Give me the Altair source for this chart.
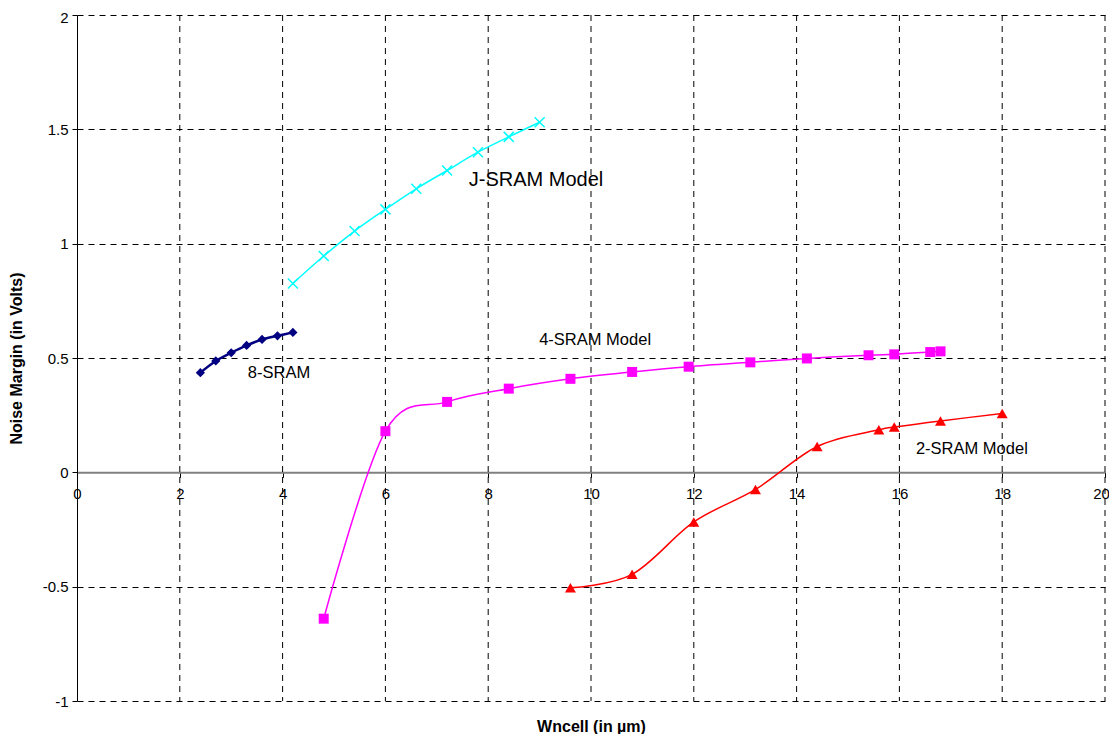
import altair as alt
import pandas as pd

# ---- data ----
sram8_x = [2.4, 2.7, 3.0, 3.3, 3.6, 3.9, 4.2]
sram8_y = [0.436, 0.487, 0.523, 0.555, 0.581, 0.597, 0.612]

jsram_x = [4.2, 4.8, 5.4, 6.0, 6.6, 7.2, 7.8, 8.4, 9.0]
jsram_y = [0.826, 0.946, 1.055, 1.15, 1.24, 1.32, 1.40, 1.467, 1.531]

sram4_x = [4.8, 6.0, 7.2, 8.4, 9.6, 10.8, 11.9, 13.1, 14.2, 15.4, 15.9, 16.6, 16.8]
sram4_y = [-0.64, 0.18, 0.308, 0.366, 0.409, 0.439, 0.462, 0.481, 0.498, 0.512, 0.516, 0.526, 0.529]

sram2_x = [9.6, 10.8, 12.0, 13.2, 14.4, 15.6, 15.9, 16.8, 18.0]
sram2_y = [-0.505, -0.446, -0.217, -0.075, 0.113, 0.186, 0.198, 0.225, 0.257]

x_ticks = [0, 2, 4, 6, 8, 10, 12, 14, 16, 18, 20]
y_ticks = [-1, -0.5, 0, 0.5, 1, 1.5, 2]
x_grid = [2, 4, 6, 8, 10, 12, 14, 16, 18, 20]

big_label_text = ["J-SRAM Model"]
big_label_x = [8.93]
big_label_y = [1.278]

label_text = ["4-SRAM Model", "8-SRAM", "2-SRAM Model"]
label_x = [10.08, 3.93, 17.41]
label_y = [0.58, 0.434, 0.10]

FONT = "Liberation Sans"
W, H = 1028, 686

x_axis = alt.Axis(
    values=x_ticks, offset=-H / 3, grid=False,
    domainColor="#808080", domainWidth=2,
    tickColor="black", tickSize=5, ticks=True,
    labelPadding=9, labelFont=FONT, labelFontSize=15, labelColor="black",
    labelFlush=False, labelExpr="'' + datum.value",
    labelOffset={"condition": {"test": "datum.value === 20", "value": -4}, "value": 0},
    title="Wncell (in µm)", titleFont=FONT, titleFontSize=16,
    titleFontWeight="bold", titleColor="black", titleY=254,
    titleBaseline="middle",
)
y_axis = alt.Axis(
    values=y_ticks, grid=True, gridDash=[6, 5], gridColor="black",
    gridWidth=1, gridOpacity=1,
    domainColor="black", domainWidth=1,
    tickColor="black", tickSize=5,
    labelPadding=4, labelFont=FONT, labelFontSize=15, labelColor="black",
    labelFlush=False, labelExpr="'' + datum.value",
    labelOffset={"condition": {"test": "datum.value === 2", "value": 2}, "value": 0},
    title="Noise Margin (in Volts)", titleFont=FONT, titleFontSize=16,
    titleFontWeight="bold", titleColor="black", titleX=-53, titleY=H / 2,
)

xs = alt.Scale(domain=[0, 20], nice=False, zero=False)
ys = alt.Scale(domain=[-1, 2], nice=False, zero=False)


def X():
    return alt.X("x:Q", scale=xs, axis=x_axis)


def Y():
    return alt.Y("y:Q", scale=ys, axis=y_axis)


grid = alt.Chart(pd.DataFrame({"x": x_grid})).mark_rule(
    color="black", strokeDash=[6, 5], strokeWidth=1
).encode(x=X())


def series(xv, yv, color, width, point_kwargs):
    df = pd.DataFrame({"x": xv, "y": yv})
    base = alt.Chart(df)
    line = base.mark_line(color=color, strokeWidth=width, interpolate="cardinal").encode(x=X(), y=Y())
    pts = base.mark_point(color=color, opacity=1, **point_kwargs).encode(x=X(), y=Y())
    return [line, pts]


layers = [grid]
layers += series(sram8_x, sram8_y, "#000080", 2.5,
                 dict(shape="diamond", filled=True, size=85))
layers += series(jsram_x, jsram_y, "#00FFFF", 1.5,
                 dict(shape="M-1,-1L1,1M-1,1L1,-1", filled=False, size=100, strokeWidth=1.5))
layers += series(sram4_x, sram4_y, "#FF00FF", 1.5,
                 dict(shape="square", filled=True, size=100))
layers += series(sram2_x, sram2_y, "#FF0000", 1.5,
                 dict(shape="triangle-up", filled=True, size=120))

big_labels = alt.Chart(pd.DataFrame({"x": big_label_x, "y": big_label_y, "t": big_label_text})).mark_text(
    font=FONT, fontSize=20, color="black"
).encode(x=X(), y=Y(), text="t:N")
labels = alt.Chart(pd.DataFrame({"x": label_x, "y": label_y, "t": label_text})).mark_text(
    font=FONT, fontSize=16.5, color="black"
).encode(x=X(), y=Y(), text="t:N")
layers += [big_labels, labels]

chart = alt.layer(*layers).properties(
    width=W, height=H,
    autosize=alt.AutoSizeParams(type="none"),
    padding={"left": 69, "top": 7, "right": 4, "bottom": 33},
    background="white",
).configure_view(strokeWidth=0)

chart.save("out.html", embed_options={"renderer": "svg", "actions": False})
